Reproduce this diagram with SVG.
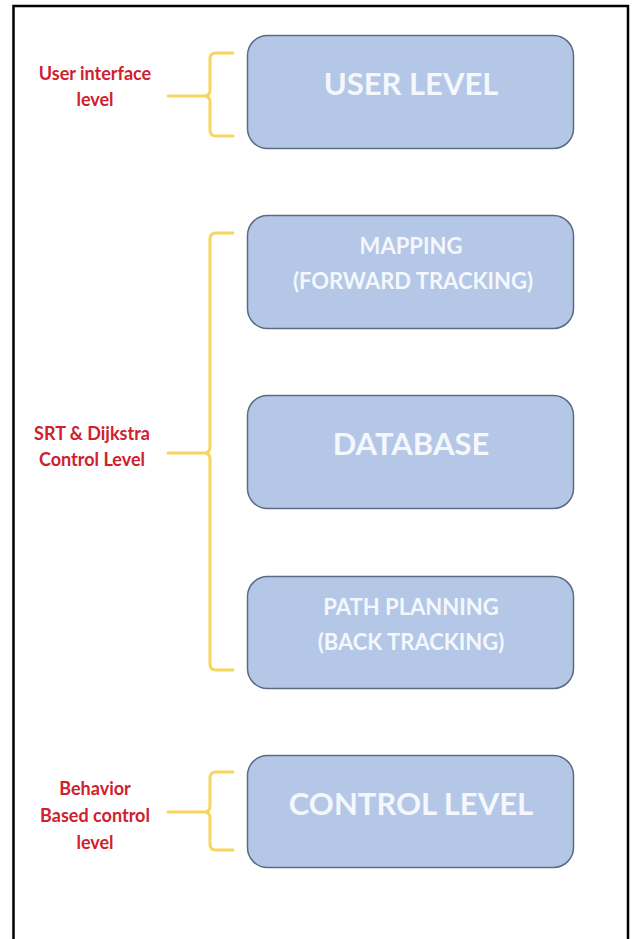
<svg xmlns="http://www.w3.org/2000/svg" width="633" height="939" viewBox="0 0 633 939">
<style>
.box{fill:#b4c7e7;stroke:#5b6b82;stroke-width:1.5}
.t{font-family:Lato,"Open Sans","Liberation Sans",sans-serif;font-weight:bold;fill:#f4f7fc;text-anchor:middle}
.big{font-size:31px}
.sm{font-size:22px}
.lbl{font-family:Lato,"Open Sans","Liberation Sans",sans-serif;font-weight:bold;fill:#d0202e;font-size:18px;text-anchor:middle}
.br{fill:none;stroke:#f7d660;stroke-width:3;stroke-linecap:round;stroke-linejoin:round}
</style>
<rect width="633" height="939" fill="#ffffff"/>
<path d="M13.5,939 L13.5,6 L628,6 L628,939" fill="none" stroke="#000000" stroke-width="2.5"/>
<g id="connectors">
<path class="br" d="M233,53 L216,53 Q210,53 210,59 L210,90 Q210,96 204,96 L168,96 M204,96 Q210,96 210,102 L210,130 Q210,136 216,136 L233,136"/>
<path class="br" d="M233,233 L216,233 Q210,233 210,239 L210,447 Q210,453 204,453 L168,453 M204,453 Q210,453 210,459 L210,664 Q210,670 216,670 L233,670"/>
<path class="br" d="M233,772 L216,772 Q210,772 210,778 L210,806 Q210,812 204,812 L168,812 M204,812 Q210,812 210,818 L210,844 Q210,850 216,850 L233,850"/>
</g>
<g id="user-level">
<rect class="box" x="247.5" y="35.5" width="326" height="113" rx="20"/>
<text class="t big" x="411" y="95">USER LEVEL</text>
</g>
<g id="mapping">
<rect class="box" x="247.5" y="215.5" width="326" height="113" rx="20"/>
<text class="t sm" x="411" y="254">MAPPING</text>
<text class="t sm" x="413" y="289">(FORWARD TRACKING)</text>
</g>
<g id="database">
<rect class="box" x="247.5" y="395.5" width="326" height="113" rx="20"/>
<text class="t big" x="411" y="455">DATABASE</text>
</g>
<g id="path-planning">
<rect class="box" x="247.5" y="576.5" width="326" height="112" rx="20"/>
<text class="t sm" x="411" y="615">PATH PLANNING</text>
<text class="t sm" x="411" y="650">(BACK TRACKING)</text>
</g>
<g id="control-level">
<rect class="box" x="247.5" y="755.5" width="326" height="112" rx="20"/>
<text class="t big" x="411" y="815">CONTROL LEVEL</text>
</g>
<g id="label-user">
<text class="lbl" x="95" y="80">User interface</text>
<text class="lbl" x="95" y="106">level</text>
</g>
<g id="label-srt">
<text class="lbl" x="92" y="440">SRT &amp; Dijkstra</text>
<text class="lbl" x="92" y="466">Control Level</text>
</g>
<g id="label-behavior">
<text class="lbl" x="95" y="795">Behavior</text>
<text class="lbl" x="95" y="822">Based control</text>
<text class="lbl" x="95" y="849">level</text>
</g>
</svg>
